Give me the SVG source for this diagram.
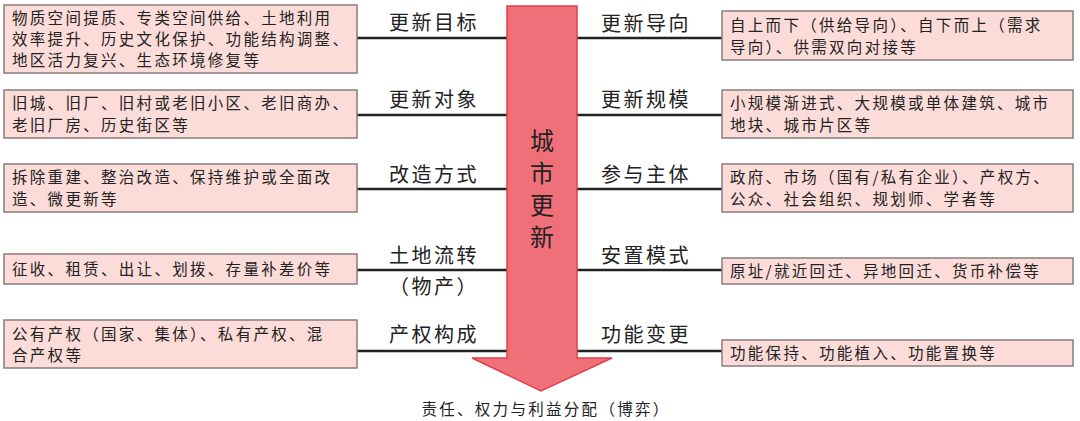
<svg xmlns="http://www.w3.org/2000/svg" width="1080" height="421" viewBox="0 0 1080 421">
<style>
.b{fill:#fcdcd9;stroke:#8a7c7c;stroke-width:1.5}
.t{font-family:"Noto Sans CJK SC",sans-serif;font-size:15.5px;letter-spacing:2.3px;fill:#222}
.l{font-family:"Noto Sans CJK SC",sans-serif;font-size:20px;letter-spacing:2.5px;fill:#222;text-anchor:middle}
.c{stroke:#222;stroke-width:2.5}
.v{font-family:"Noto Sans CJK SC",sans-serif;font-size:24px;fill:#222;text-anchor:middle}
</style>
<rect width="1080" height="421" fill="#fff"/>
<g id="connectors">
<line class="c" x1="357" y1="38" x2="507" y2="38"/><line class="c" x1="577" y1="38" x2="722" y2="38"/>
<line class="c" x1="357" y1="115" x2="507" y2="115"/><line class="c" x1="577" y1="115" x2="722" y2="115"/>
<line class="c" x1="357" y1="189" x2="507" y2="189"/><line class="c" x1="577" y1="189" x2="722" y2="189"/>
<line class="c" x1="357" y1="270" x2="507" y2="270"/><line class="c" x1="577" y1="270" x2="722" y2="270"/>
<line class="c" x1="357" y1="351" x2="507" y2="351"/><line class="c" x1="577" y1="351" x2="722" y2="351"/>
</g>
<g id="arrow">
<polygon points="507,6 577,6 577,358 612,358 541,391 472,358 507,358" fill="#f07079" stroke="#e0404c" stroke-width="1.5"/>
<text class="v" x="542" y="150">城</text>
<text class="v" x="542" y="182">市</text>
<text class="v" x="542" y="214">更</text>
<text class="v" x="542" y="246">新</text>
<text class="t" x="546" y="415" text-anchor="middle">责任、权力与利益分配（博弈）</text>
</g>
<g id="n1"><rect class="b" x="4" y="5" width="353" height="68"/><text class="t"><tspan x="12" y="24">物质空间提质、专类空间供给、土地利用</tspan><tspan x="12" y="45">效率提升、历史文化保护、功能结构调整、</tspan><tspan x="12" y="66">地区活力复兴、生态环境修复等</tspan></text><text class="l" x="434" y="30">更新目标</text></g>
<g id="n2"><rect class="b" x="4" y="90" width="353" height="48"/><text class="t"><tspan x="12" y="109">旧城、旧厂、旧村或老旧小区、老旧商办、</tspan><tspan x="12" y="131">老旧厂房、历史街区等</tspan></text><text class="l" x="434" y="107">更新对象</text></g>
<g id="n3"><rect class="b" x="4" y="164" width="353" height="48"/><text class="t"><tspan x="12" y="183">拆除重建、整治改造、保持维护或全面改</tspan><tspan x="12" y="205">造、微更新等</tspan></text><text class="l" x="434" y="182">改造方式</text></g>
<g id="n4"><rect class="b" x="4" y="254" width="353" height="30"/><text class="t" x="12" y="275">征收、租赁、出让、划拨、存量补差价等</text><text class="l"><tspan x="434" y="263">土地流转</tspan><tspan x="434" y="294">（物产）</tspan></text></g>
<g id="n5"><rect class="b" x="4" y="320" width="353" height="48"/><text class="t"><tspan x="12" y="340">公有产权（国家、集体）、私有产权、混</tspan><tspan x="12" y="361">合产权等</tspan></text><text class="l" x="434" y="342">产权构成</text></g>
<g id="n6"><rect class="b" x="722" y="11" width="351" height="49"/><text class="t"><tspan x="730" y="31">自上而下（供给导向）、自下而上（需求</tspan><tspan x="730" y="53">导向）、供需双向对接等</tspan></text><text class="l" x="646" y="31">更新导向</text></g>
<g id="n7"><rect class="b" x="722" y="90" width="351" height="48"/><text class="t"><tspan x="730" y="109">小规模渐进式、大规模或单体建筑、城市</tspan><tspan x="730" y="131">地块、城市片区等</tspan></text><text class="l" x="646" y="107">更新规模</text></g>
<g id="n8"><rect class="b" x="722" y="164" width="351" height="48"/><text class="t"><tspan x="730" y="183">政府、市场（国有/私有企业）、产权方、</tspan><tspan x="730" y="205">公众、社会组织、规划师、学者等</tspan></text><text class="l" x="646" y="182">参与主体</text></g>
<g id="n9"><rect class="b" x="722" y="258" width="351" height="26"/><text class="t" x="730" y="277">原址/就近回迁、异地回迁、货币补偿等</text><text class="l" x="646" y="263">安置模式</text></g>
<g id="n10"><rect class="b" x="722" y="340" width="351" height="26"/><text class="t" x="730" y="359">功能保持、功能植入、功能置换等</text><text class="l" x="646" y="342">功能变更</text></g>
</svg>
